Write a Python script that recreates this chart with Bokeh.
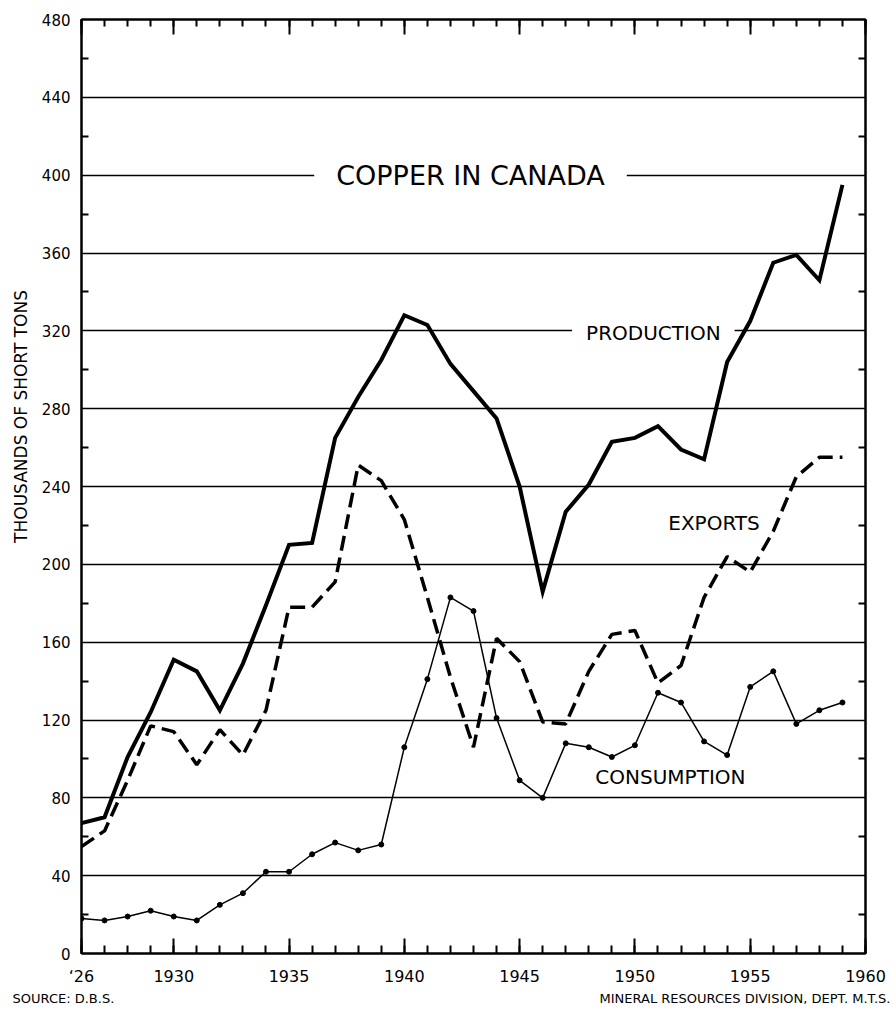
from math import pi
from bokeh.plotting import figure
from bokeh.layouts import column, row
from bokeh.models import FixedTicker, LinearAxis, Range1d, Label, CustomJSTickFormatter
from bokeh.core.properties import value
from bokeh.embed import file_html
from bokeh.resources import INLINE

# ---- data (thousands of short tons) ----
years = list(range(1926, 1960))
production = [67, 70, 101, 124, 151, 145, 125, 149, 179, 210,
              211, 265, 286, 305, 328, 323, 303, 289, 275, 240,
              186, 227, 241, 263, 265, 271, 259, 254, 304, 325,
              355, 359, 346, 395]
exports = [55, 63, 89, 117, 114, 97, 115, 102, 125, 178,
           178, 191, 251, 243, 223, 183, 142, 106, 162, 150,
           119, 118, 145, 164, 166, 139, 148, 183, 204, 196,
           217, 245, 255, 255]
consumption = [18, 17, 19, 22, 19, 17, 25, 31, 42, 42,
               51, 57, 53, 56, 106, 141, 183, 176, 121, 89,
               80, 108, 106, 101, 107, 134, 129, 109, 102, 137,
               145, 118, 125, 129]

x_major = [1926, 1930, 1935, 1940, 1945, 1950, 1955, 1960]
x_minor = list(range(1926, 1961))
x_label_overrides = {1926: "\u201826"}
y_major = list(range(0, 481, 40))
y_minor = list(range(20, 480, 40))
grid_values = list(range(40, 441, 40))

FONT = "DejaVu Sans"
MAIN_H = 988
TOP_B = 19
BOT_B = 35

p = figure(width=864, height=MAIN_H,
           x_range=Range1d(1926, 1960), y_range=Range1d(0, 480),
           output_backend="svg", toolbar_location=None,
           min_border_left=51, min_border_right=29,
           min_border_top=TOP_B, min_border_bottom=BOT_B)

p.outline_line_color = "black"
p.outline_line_width = 2
p.background_fill_color = "white"
p.border_fill_color = "white"

# grid
p.xgrid.grid_line_color = None
p.ygrid.ticker = FixedTicker(ticks=grid_values)
p.ygrid.grid_line_color = "black"
p.ygrid.grid_line_width = 1.5

def style_axis(ax):
    ax.axis_line_color = "black"
    ax.axis_line_width = 2
    ax.major_tick_line_color = "black"
    ax.minor_tick_line_color = "black"
    ax.major_tick_line_width = 2
    ax.minor_tick_line_width = 2
    ax.major_tick_out = 0
    ax.minor_tick_out = 0
    ax.major_label_text_font = FONT
    ax.major_label_text_color = "black"

blank = CustomJSTickFormatter(code="return ''")

# left axis
ly = p.yaxis[0]
ly.ticker = FixedTicker(ticks=y_major, minor_ticks=y_minor)
style_axis(ly)
ly.major_tick_in = 0
ly.minor_tick_in = 7
ly.major_label_standoff = 11
ly.major_label_text_font_size = "15px"

# right axis
ry = LinearAxis(ticker=FixedTicker(ticks=y_major, minor_ticks=y_minor), formatter=blank)
style_axis(ry)
ry.major_tick_in = 0
ry.minor_tick_in = 7
ry.major_label_standoff = 0
p.add_layout(ry, "right")

# bottom axis
bx = p.xaxis[0]
bx.ticker = FixedTicker(ticks=x_major, minor_ticks=x_minor)
style_axis(bx)
bx.major_tick_in = 15
bx.minor_tick_in = 8
bx.major_label_standoff = 13
bx.major_label_text_font_size = "16px"
bx.major_label_overrides = x_label_overrides

# top axis
tx = LinearAxis(ticker=FixedTicker(ticks=x_major, minor_ticks=x_minor), formatter=blank)
style_axis(tx)
tx.major_tick_in = 15
tx.minor_tick_in = 7
tx.major_label_standoff = 0
p.add_layout(tx, "above")

# labels that interrupt grid lines
title = Label(x=1942.87, y=400, text="COPPER IN CANADA", text_align="center",
              text_baseline="middle", text_font=FONT, text_font_size="27px",
              text_color="black", background_fill_color="white", padding=22,
              level="underlay")
p.add_layout(title)
prod_lbl = Label(x=1950.8, y=319, text="PRODUCTION", text_align="center",
                 text_baseline="middle", text_font=FONT, text_font_size="20px",
                 text_color="black", background_fill_color="white", padding=14,
                 level="underlay")
p.add_layout(prod_lbl)
exp_lbl = Label(x=1953.43, y=221, text="EXPORTS", text_align="center",
                text_baseline="middle", text_font=FONT, text_font_size="20px",
                text_color="black")
p.add_layout(exp_lbl)
cons_lbl = Label(x=1951.54, y=90.5, text="CONSUMPTION", text_align="center",
                 text_baseline="middle", text_font=FONT, text_font_size="20px",
                 text_color="black")
p.add_layout(cons_lbl)

# series
p.line(years, production, line_width=4, line_color="black", line_join="miter")
p.line(years, exports, line_width=3.5, line_color="black", line_dash="15 7")
p.line(years, consumption, line_width=1.5, line_color="black")
p.scatter(years, consumption, size=5, color="black")

# strip on the left holding the vertical axis title (shares the y range)
yt = figure(width=30, height=MAIN_H, x_range=Range1d(0, 30), y_range=p.y_range,
            x_axis_type=None, y_axis_type=None,
            output_backend="svg", toolbar_location=None,
            min_border_left=0, min_border_right=0,
            min_border_top=TOP_B, min_border_bottom=BOT_B)
yt.outline_line_color = None
yt.xgrid.visible = False
yt.ygrid.visible = False
yt.text(x=[20], y=[276], text=["THOUSANDS OF SHORT TONS"], angle=pi / 2,
        text_align="center", text_baseline="middle", text_font=value(FONT),
        text_font_size="17px", text_color="black")

# footer strip
ft = figure(width=894, height=25, x_range=Range1d(0, 894), y_range=Range1d(0, 25),
            x_axis_type=None, y_axis_type=None,
            output_backend="svg", toolbar_location=None,
            min_border=0)
ft.outline_line_color = None
ft.xgrid.visible = False
ft.ygrid.visible = False
ft.text(x=[12], y=[15], text=["SOURCE: D.B.S."], text_align="left",
        text_baseline="middle", text_font=value(FONT), text_font_size="13px",
        text_color="black")
ft.text(x=[890], y=[15], text=["MINERAL RESOURCES DIVISION, DEPT. M.T.S."],
        text_align="right", text_baseline="middle", text_font=value(FONT),
        text_font_size="13px", text_color="black")

layout = column(row(yt, p), ft)
open("out.html", "w").write(file_html(layout, INLINE))
